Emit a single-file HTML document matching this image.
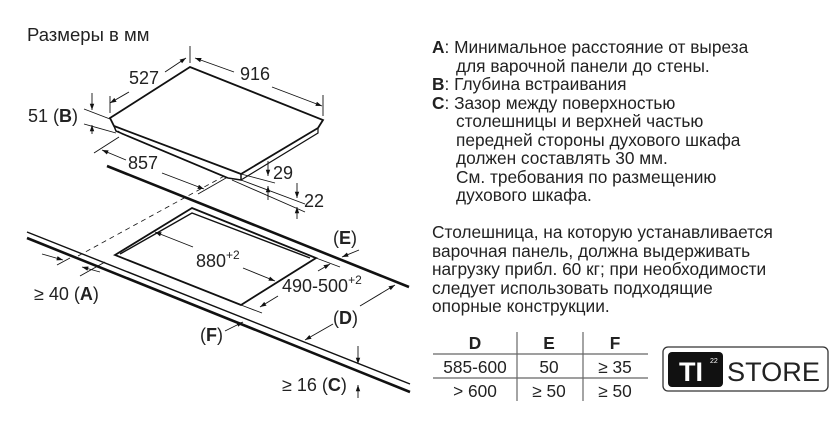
<!DOCTYPE html>
<html><head><meta charset="utf-8"><style>
body{margin:0;background:#fff;}
svg{display:block;font-family:"Liberation Sans",sans-serif;}
</style></head><body>
<svg width="840" height="440" viewBox="0 0 840 440" xmlns="http://www.w3.org/2000/svg">
<defs>
<marker id="a" viewBox="0 0 10 10" refX="10" refY="5" markerWidth="7" markerHeight="7" orient="auto-start-reverse"><path d="M0,1.5 L10,5 L0,8.5 z" fill="#111"/></marker>
</defs>
<g fill="#222" font-size="18.5">
<text x="27" y="41">Размеры в мм</text>
</g>
<g stroke="#111" fill="none">
<path d="M110,118 L190,67 L323,120 L318,128 L241,174 L114,126 Z" stroke-width="1.8"/>
<path d="M114,126 L116,131 L228,178 L241,180 L241,174" stroke-width="1.5"/>
<path d="M118,131 L122,134 L227,178" stroke-width="1"/>
<path d="M241,180 L318,133 L318,128" stroke-width="1.2"/>
<g stroke-width="0.9">
<line x1="190" y1="46" x2="190" y2="63"/>
<line x1="323" y1="95" x2="323" y2="116"/>
<line x1="110" y1="96" x2="110" y2="113"/>
<line x1="110" y1="103" x2="129" y2="92" marker-start="url(#a)"/>
<line x1="165" y1="72" x2="186" y2="58" marker-end="url(#a)"/>
<line x1="195" y1="58" x2="234" y2="72" marker-start="url(#a)"/>
<line x1="272" y1="87" x2="322" y2="106" marker-end="url(#a)"/>
<line x1="84" y1="109" x2="110" y2="119"/>
<line x1="84" y1="124" x2="116" y2="133"/>
<line x1="92" y1="93" x2="92" y2="110" marker-end="url(#a)"/>
<line x1="92" y1="134" x2="92" y2="125" marker-end="url(#a)"/>
<line x1="94" y1="153" x2="119" y2="137"/>
<line x1="198" y1="194" x2="226" y2="178"/>
<line x1="102" y1="150" x2="126" y2="160" marker-start="url(#a)"/>
<line x1="162" y1="173" x2="204" y2="189" marker-end="url(#a)"/>
<line x1="241" y1="174" x2="275" y2="183"/>
<line x1="241" y1="180" x2="305" y2="204"/>
<line x1="232" y1="180" x2="305" y2="212"/>
<line x1="268" y1="161" x2="268" y2="176" marker-end="url(#a)"/>
<line x1="268" y1="200" x2="268" y2="186" marker-end="url(#a)"/>
<line x1="297" y1="183" x2="297" y2="198" marker-end="url(#a)"/>
<line x1="297" y1="219" x2="297" y2="207" marker-end="url(#a)"/>
</g>
<line x1="107" y1="166" x2="409" y2="287" stroke-width="2.6"/>
<line x1="27" y1="232" x2="410" y2="384" stroke-width="1.4"/>
<line x1="27" y1="238" x2="410" y2="392" stroke-width="2.6"/>
<line x1="78" y1="256" x2="228" y2="174" stroke-width="0.8" stroke-dasharray="5,4"/>
<path d="M115,255 L192,208 L316,258 L241,305 Z" stroke-width="1.8"/>
<path d="M120,254 L192,213 L310,258" stroke-width="1.4"/>
<g stroke-width="0.9">
<line x1="155" y1="232" x2="193" y2="247" marker-start="url(#a)"/>
<line x1="243" y1="268" x2="275" y2="281" marker-end="url(#a)"/>
<line x1="316" y1="258" x2="340" y2="267"/>
<line x1="241" y1="305" x2="262" y2="313"/>
<line x1="330" y1="264" x2="318" y2="271" marker-start="url(#a)"/>
<line x1="278" y1="296" x2="260" y2="307" marker-end="url(#a)"/>
<line x1="359" y1="250" x2="342" y2="257" marker-end="url(#a)"/>
<line x1="333" y1="324" x2="305" y2="340" marker-end="url(#a)"/>
<line x1="360" y1="306" x2="395" y2="285" marker-end="url(#a)"/>
<line x1="225" y1="331" x2="243" y2="322" marker-end="url(#a)"/>
<line x1="358" y1="346" x2="358" y2="364" marker-end="url(#a)"/>
<line x1="358" y1="398" x2="358" y2="385" marker-end="url(#a)"/>
<line x1="42" y1="254" x2="63" y2="260" marker-end="url(#a)"/>
<line x1="57" y1="265" x2="70" y2="258"/>
<line x1="100" y1="272" x2="82" y2="267" marker-end="url(#a)"/>
<line x1="80" y1="276" x2="105" y2="262"/>
</g>
</g>
<g fill="#222" font-size="18">
<text x="129" y="84">527</text>
<text x="240" y="80">916</text>
<text x="28" y="122">51 (<tspan font-weight="bold">B</tspan>)</text>
<text x="128" y="169">857</text>
<text x="273" y="179">29</text>
<text x="304" y="207">22</text>
<text x="196" y="267">880<tspan font-size="12" dy="-8">+2</tspan></text>
<text x="282" y="292">490-500<tspan font-size="12" dy="-8">+2</tspan></text>
<text x="333" y="244">(<tspan font-weight="bold">E</tspan>)</text>
<text x="333" y="324">(<tspan font-weight="bold">D</tspan>)</text>
<text x="200" y="341">(<tspan font-weight="bold">F</tspan>)</text>
<text x="282" y="391">≥ 16 (<tspan font-weight="bold">C</tspan>)</text>
<text x="34" y="300">≥ 40 (<tspan font-weight="bold">A</tspan>)</text>
</g>
<g fill="#222" font-size="17.3">
<text x="432" y="53"><tspan font-weight="bold">A</tspan>: Минимальное расстояние от выреза</text>
<text x="456" y="72">для варочной панели до стены.</text>
<text x="432" y="90"><tspan font-weight="bold">B</tspan>: Глубина встраивания</text>
<text x="432" y="109"><tspan font-weight="bold">C</tspan>: Зазор между поверхностью</text>
<text x="456" y="127">столешницы и верхней частью</text>
<text x="456" y="146">передней стороны духового шкафа</text>
<text x="456" y="164">должен составлять 30 мм.</text>
<text x="456" y="183">См. требования по размещению</text>
<text x="456" y="201">духового шкафа.</text>
<text x="432" y="238">Столешница, на которую устанавливается</text>
<text x="432" y="257">варочная панель, должна выдерживать</text>
<text x="432" y="275">нагрузку прибл. 60 кг; при необходимости</text>
<text x="432" y="294">следует использовать подходящие</text>
<text x="432" y="312">опорные конструкции.</text>
</g>
<g stroke="#666" stroke-width="1.2">
<line x1="433" y1="354" x2="648" y2="354"/>
<line x1="433" y1="378" x2="648" y2="378"/>
<line x1="517" y1="332" x2="517" y2="401"/>
<line x1="583" y1="332" x2="583" y2="401"/>
</g>
<g fill="#222" font-size="17.3" text-anchor="middle">
<text x="475" y="349" font-weight="bold">D</text>
<text x="549" y="349" font-weight="bold">E</text>
<text x="615" y="349" font-weight="bold">F</text>
<text x="475" y="373">585-600</text>
<text x="549" y="373">50</text>
<text x="615" y="373">≥ 35</text>
<text x="475" y="397">&gt; 600</text>
<text x="549" y="397">≥ 50</text>
<text x="615" y="397">≥ 50</text>
</g>
<rect x="663" y="347" width="165" height="44" rx="5" fill="#fff" stroke="#333" stroke-width="1.3"/>
<rect x="668" y="352" width="55" height="35" rx="4" fill="#111"/>
<text x="679" y="381" font-size="27" font-weight="bold" fill="#fff">TI</text>
<text x="710" y="363" font-size="7" fill="#fff">22</text>
<text x="727" y="381" font-size="27" fill="#222" textLength="93" lengthAdjust="spacingAndGlyphs">STORE</text>
</svg>
</body></html>
